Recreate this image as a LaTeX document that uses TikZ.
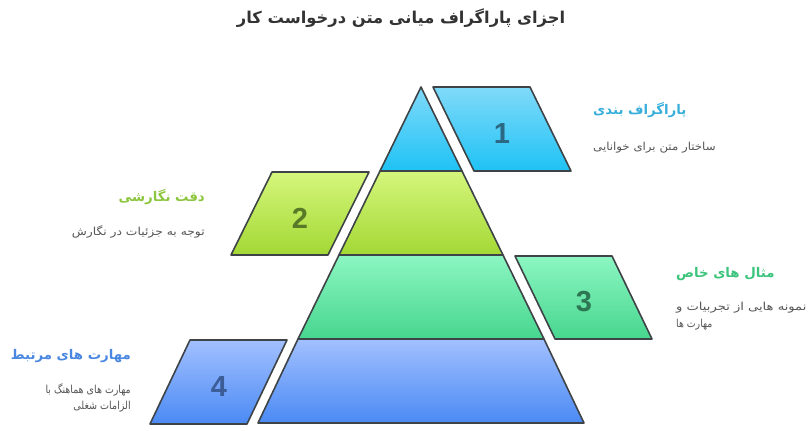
\documentclass[tikz,border=0pt]{standalone}
\usepackage{graphicx}
\usepackage{fontspec}
\setmainfont{Liberation Sans}
\newfontfamily\arabicfont[Script=Arabic]{DejaVu Sans}
\TeXXeTstate=1
\definecolor{outl}{HTML}{3E4347}
\definecolor{cAtop}{HTML}{80DAF9}\definecolor{cAbot}{HTML}{1FC2F5}
\definecolor{cBtop}{HTML}{D5F67C}\definecolor{cBbot}{HTML}{A3D834}
\definecolor{cCtop}{HTML}{8CF6C2}\definecolor{cCbot}{HTML}{47D68E}
\definecolor{cDtop}{HTML}{A2C0FF}\definecolor{cDbot}{HTML}{4B8AF4}
\definecolor{hA}{HTML}{38AEDB}\definecolor{hB}{HTML}{8CC63E}
\definecolor{hC}{HTML}{3CC47C}\definecolor{hD}{HTML}{4A87E0}
\definecolor{nA}{HTML}{2C6884}\definecolor{nB}{HTML}{587A28}
\definecolor{nC}{HTML}{2D7753}\definecolor{nD}{HTML}{3B5C96}
\definecolor{desc}{HTML}{555555}\definecolor{ttl}{HTML}{333333}
\newcommand{\xstretch}[2]{\scalebox{#1}[1]{#2}}
\begin{document}
\begin{tikzpicture}[x=1pt,y=-1pt,
  shp/.style={draw=outl,line width=1.6pt,line join=round},
  num/.style={font=\fontsize{29}{30}\selectfont\bfseries},
  head/.style={font=\arabicfont\fontsize{13.3}{15}\selectfont\bfseries,inner sep=0pt},
  dsc/.style={font=\arabicfont\fontsize{11}{13}\selectfont,text=desc,inner sep=0pt}]
\useasboundingbox (0,0) rectangle (812,431);
% pyramid tiers
\path[shp,top color=cAtop,bottom color=cAbot] (421,87) -- (462,171) -- (380,171) -- cycle;
\path[shp,top color=cBtop,bottom color=cBbot] (380,171) -- (462,171) -- (503,255) -- (339,255) -- cycle;
\path[shp,top color=cCtop,bottom color=cCbot] (339,255) -- (503,255) -- (544,339) -- (298,339) -- cycle;
\path[shp,top color=cDtop,bottom color=cDbot] (298,339) -- (544,339) -- (584,423) -- (258,423) -- cycle;
% parallelograms
\path[shp,top color=cAtop,bottom color=cAbot] (433,87) -- (530,87) -- (571,171) -- (474,171) -- cycle;
\path[shp,top color=cBtop,bottom color=cBbot] (272,172) -- (369,172) -- (328,255) -- (231,255) -- cycle;
\path[shp,top color=cCtop,bottom color=cCbot] (515,256) -- (612,256) -- (652,339) -- (555,339) -- cycle;
\path[shp,top color=cDtop,bottom color=cDbot] (190,340) -- (287,340) -- (247,424) -- (150,424) -- cycle;
% numbers
\node[num,text=nA] (n1) at (502,134) {1};
\node[num,text=nB] (n2) at (300,218) {2};
\node[num,text=nC] (n3) at (584,302) {3};
\node[num,text=nD] (n4) at (219,387) {4};
% title
\node[font=\arabicfont\fontsize{16.3}{19}\selectfont\bfseries,text=ttl] (title) at (401,18) {\beginR اجزای پاراگراف میانی متن درخواست کار\endR};
% labels
\node[head,text=hA,anchor=west] (h1) at (593,110) {\beginR پاراگراف بندی\endR};
\node[dsc,anchor=west] (d1) at (593,148) {\xstretch{1.07}{\beginR ساختار متن برای خوانایی\endR}};
\node[head,text=hB,anchor=east] (h2) at (205,197) {\beginR دقت نگارشی\endR};
\node[dsc,anchor=east] (d2) at (205,232) {\xstretch{1.12}{\beginR توجه به جزئیات در نگارش\endR}};
\node[head,text=hC,anchor=west] (h3) at (676,274) {\beginR مثال های خاص\endR};
\node[dsc,anchor=west] (d3a) at (676,308) {\xstretch{1.19}{\beginR نمونه هایی از تجربیات و\endR}};
\node[dsc,anchor=west] (d3b) at (676,325) {\xstretch{0.85}{\beginR مهارت ها\endR}};
\node[head,text=hD,anchor=east] (h4) at (131,356) {\beginR مهارت های مرتبط\endR};
\node[dsc,anchor=east] (d4a) at (131,390) {\xstretch{0.86}{\beginR مهارت های هماهنگ با\endR}};
\node[dsc,anchor=east] (d4b) at (131,407) {\xstretch{0.87}{\beginR الزامات شغلی\endR}};
\end{tikzpicture}
\end{document}
